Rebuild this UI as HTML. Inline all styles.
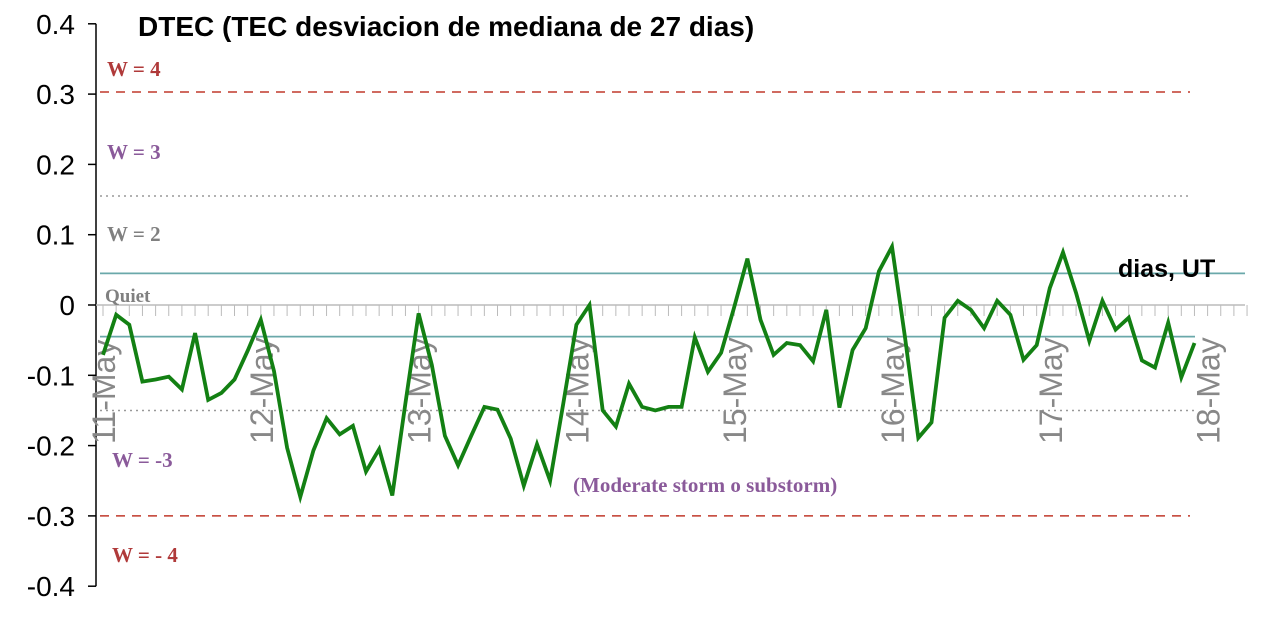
<!DOCTYPE html>
<html><head><meta charset="utf-8"><style>
html,body{margin:0;padding:0;background:#fff;}
svg{display:block;}
</style></head><body>
<svg id="chart" width="1262" height="643" xmlns="http://www.w3.org/2000/svg">
<g id="grid"></g>
<g id="axes"></g>
<g id="series"></g>
<text x="138" y="36" font-family="Liberation Sans, sans-serif" font-weight="bold" font-size="28" fill="#000">DTEC (TEC desviacion de mediana de 27 dias)</text>
<text x="1118" y="277" font-family="Liberation Sans, sans-serif" font-weight="bold" font-size="25" fill="#000">dias, UT</text>
<text x="107" y="76" font-family="Liberation Serif, serif" font-weight="bold" font-size="21" fill="#b03a3a">W = 4</text>
<text x="107" y="159" font-family="Liberation Serif, serif" font-weight="bold" font-size="21" fill="#8a5a9a">W = 3</text>
<text x="107" y="241" font-family="Liberation Serif, serif" font-weight="bold" font-size="21" fill="#808080">W = 2</text>
<text x="105" y="302" font-family="Liberation Serif, serif" font-weight="bold" font-size="19" fill="#808080">Quiet</text>
<text x="112" y="467" font-family="Liberation Serif, serif" font-weight="bold" font-size="21" fill="#8a5a9a">W = -3</text>
<text x="112" y="562" font-family="Liberation Serif, serif" font-weight="bold" font-size="21" fill="#b03a3a">W = - 4</text>
<text x="573" y="492" font-family="Liberation Serif, serif" font-weight="bold" font-size="21" fill="#8a5a9a">(Moderate storm o substorm)</text>
</svg>
<script>
const dayLabels = ["11-May","12-May","13-May","14-May","15-May","16-May","17-May","18-May"];
const yTicks = [0.4,0.3,0.2,0.1,0,-0.1,-0.2,-0.3,-0.4];
const yTickLabels = ["0.4","0.3","0.2","0.1","0","-0.1","-0.2","-0.3","-0.4"];
const dtec = [-0.071,-0.014,-0.028,-0.109,-0.106,-0.102,-0.12,-0.04,-0.135,-0.125,-0.106,-0.065,
-0.021,-0.094,-0.203,-0.273,-0.207,-0.161,-0.184,-0.172,-0.237,-0.205,-0.271,-0.14,
-0.012,-0.085,-0.186,-0.228,-0.186,-0.145,-0.149,-0.19,-0.257,-0.198,-0.25,-0.14,
-0.028,0.0,-0.15,-0.173,-0.112,-0.145,-0.15,-0.145,-0.145,-0.046,-0.095,-0.068,
-0.003,0.066,-0.021,-0.071,-0.054,-0.057,-0.08,-0.007,-0.146,-0.064,-0.033,0.048,
0.083,-0.047,-0.189,-0.167,-0.018,0.006,-0.007,-0.033,0.006,-0.014,-0.078,-0.057,
0.024,0.075,0.017,-0.051,0.006,-0.035,-0.018,-0.079,-0.089,-0.025,-0.103,-0.054];
const refLevels = [0.303,0.155,0.045,-0.045,-0.15,-0.3];
const pointsPerDay = 12;

const NS="http://www.w3.org/2000/svg";
const X0=103, STEP=13.15;
function xPos(i){return X0+i*STEP;}
function yPos(v){return 305-v*703;}
function mk(tag,attrs,parent){const e=document.createElementNS(NS,tag);for(const k in attrs)e.setAttribute(k,attrs[k]);parent.appendChild(e);return e;}
const grid=document.getElementById('grid'), axes=document.getElementById('axes'), series=document.getElementById('series');

const refStyles=[
 {stroke:"#c0392b",dash:"9,7",w:1.5,x2:1190,name:"ref-line-w4"},
 {stroke:"#999",dash:"2,4",w:1.5,x2:1190,name:"ref-line-w3"},
 {stroke:"#6aa8aa",dash:"",w:1.8,x2:1245,name:"ref-line-quiet-upper"},
 {stroke:"#6aa8aa",dash:"",w:1.8,x2:1195,name:"ref-line-quiet-lower"},
 {stroke:"#999",dash:"2,4",w:1.5,x2:1195,name:"ref-line-w-3"},
 {stroke:"#c0392b",dash:"9,7",w:1.5,x2:1190,name:"ref-line-w-4"}];
refLevels.forEach((v,i)=>{const s=refStyles[i];
 const l=mk('line',{x1:100,x2:s.x2,y1:yPos(v),y2:yPos(v),stroke:s.stroke,'stroke-width':s.w,'stroke-dasharray':s.dash},grid);
 
 
});

const ya=mk('line',{x1:96,x2:96,y1:yPos(0.4),y2:yPos(-0.4),stroke:'#000','stroke-width':1.5},axes);


yTicks.forEach((v,i)=>{
 mk('line',{x1:88,x2:96,y1:yPos(v),y2:yPos(v),stroke:'#000','stroke-width':1.5},axes);
 const t=mk('text',{x:75,y:yPos(v)+10,'text-anchor':'end','font-family':'Liberation Sans, sans-serif','font-size':28,fill:'#000'},axes);
 t.textContent=yTickLabels[i];
 
 
});
const xa=mk('line',{x1:96,x2:1245,y1:yPos(0),y2:yPos(0),stroke:'#bbb','stroke-width':1.5},axes);


for(let i=0;i<=dtec.length+3;i++){
 mk('line',{x1:xPos(i),x2:xPos(i),y1:yPos(0),y2:yPos(0)+11,stroke:'#bbb','stroke-width':1},axes);
}
dayLabels.forEach((d,i)=>{
 const x=xPos(i*pointsPerDay)+12, y=444;
 const t=mk('text',{x:x,y:y,transform:`rotate(-90 ${x} ${y})`,'font-family':'Liberation Sans, sans-serif','font-size':32,fill:'#888'},axes);
 t.textContent=d;
 
 
});
const pts=dtec.map((v,i)=>xPos(i).toFixed(1)+','+yPos(v).toFixed(1)).join(' ');
const pl=mk('polyline',{points:pts,fill:'none',stroke:'#138013','stroke-width':3.8,'stroke-linejoin':'miter'},series);


</script>
</body></html>
